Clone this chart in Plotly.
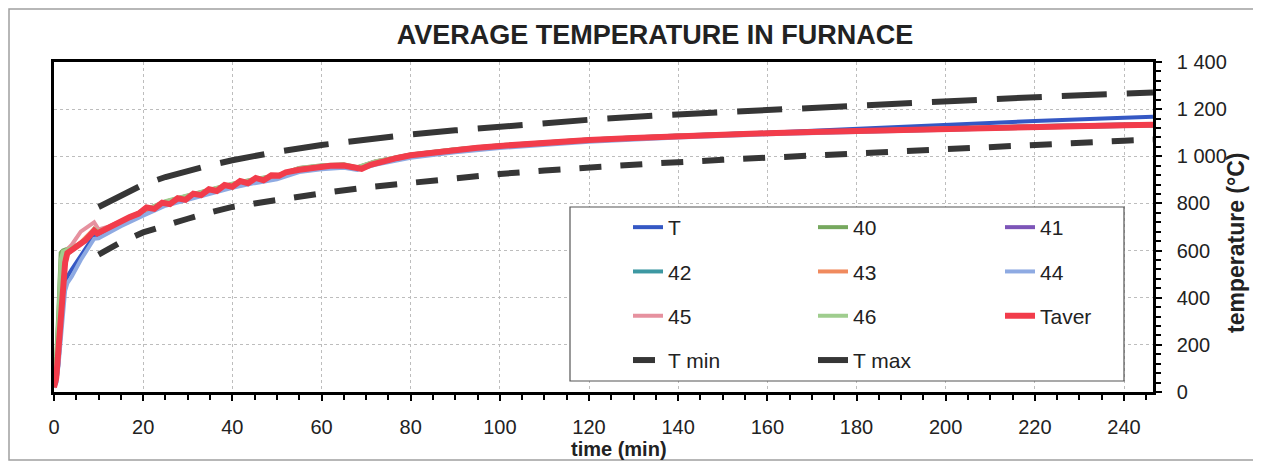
import plotly.graph_objects as go

# ---------------- data ----------------
# coarse time grid for the individual thermocouples (min)
t_sens = [0, 0.5, 1, 1.5, 2, 2.5, 3, 4, 6, 8, 9, 10, 12, 15, 20, 25, 30, 35, 40, 45,
          50, 55, 60, 65, 68, 72, 80, 90, 100, 120, 140, 160, 180, 200, 220, 240, 246.5]

T_main = [20, 40, 120, 250, 400, 460, 490, 520, 580, 635, 658, 660, 680, 710, 755, 795, 822, 848, 873, 893,
          910, 940, 952, 958, 948, 970, 1000, 1022, 1040, 1068, 1087, 1100, 1118, 1136, 1150, 1163, 1168]
T40 = [20, 150, 350, 590, 600, 603, 607, 612, 628, 662, 690, 680, 695, 722, 768, 808, 833, 858, 882, 902,
       917, 949, 960, 964, 952, 977, 1007, 1029, 1046, 1070, 1086, 1097, 1106, 1115, 1122, 1128, 1130]
T41 = [20, 55, 170, 290, 440, 550, 590, 603, 628, 663, 683, 674, 690, 718, 764, 804, 829, 854, 879, 899,
       914, 946, 957, 961, 949, 974, 1004, 1026, 1043, 1068, 1085, 1097, 1108, 1118, 1127, 1134, 1136]
T42 = [20, 50, 160, 280, 430, 540, 585, 600, 625, 660, 680, 672, 690, 718, 765, 806, 832, 857, 882, 902,
       917, 949, 960, 964, 952, 977, 1007, 1029, 1046, 1071, 1088, 1100, 1110, 1120, 1128, 1135, 1137]
T43 = [20, 65, 190, 310, 460, 565, 598, 608, 635, 672, 692, 680, 696, 722, 767, 806, 831, 856, 881, 901,
       916, 948, 959, 963, 951, 976, 1006, 1028, 1045, 1070, 1087, 1099, 1109, 1119, 1127, 1133, 1135]
T44 = [20, 40, 110, 220, 360, 430, 462, 490, 560, 625, 650, 652, 672, 703, 748, 790, 815, 840, 866, 886,
       902, 933, 945, 951, 942, 964, 994, 1017, 1035, 1062, 1080, 1093, 1104, 1114, 1122, 1128, 1130]
T45 = [20, 70, 200, 330, 480, 575, 605, 625, 680, 710, 720, 690, 700, 725, 770, 808, 833, 858, 883, 903,
       918, 950, 961, 965, 953, 978, 1008, 1030, 1047, 1071, 1088, 1099, 1109, 1119, 1127, 1133, 1135]
T46 = [20, 130, 320, 560, 595, 600, 605, 612, 630, 665, 692, 682, 697, 724, 770, 810, 836, 860, 884, 904,
       919, 951, 962, 966, 954, 978, 1008, 1030, 1047, 1071, 1087, 1098, 1108, 1117, 1124, 1130, 1132]

# average furnace temperature (finer grid, shows the oscillations)
t_aver = [0, 0.5, 1, 1.5, 2, 2.5, 3, 4, 5, 6, 7, 8, 9, 9.7, 11, 13, 15, 17, 19,
          20.75, 22.5, 24.25, 26, 27.75, 29.5, 31.25, 33, 34.75, 36.5, 38.25, 40, 41.75,
          43.5, 45.25, 47, 48.75, 50.5, 52, 55, 58, 62, 65, 67, 69, 71, 74, 77, 80, 85,
          90, 95, 100, 110, 120, 130, 140, 150, 160, 170, 180, 190, 200, 210, 220, 230, 240, 246.5]
T_aver = [20, 60, 180, 300, 440, 550, 590, 603, 614, 628, 643, 663, 684, 673, 686, 702, 722, 742, 757,
          783, 777, 803, 797, 822, 815, 841, 835, 860, 853, 878, 871, 895,
          886, 908, 898, 919, 918, 932, 943, 953, 960, 961, 956, 947, 964, 981, 993, 1004, 1016,
          1027, 1036, 1044, 1058, 1069, 1078, 1086, 1092, 1098, 1103, 1108, 1113, 1117, 1121, 1125, 1129, 1132, 1134]

# tolerance limits
t_lim = [10, 15, 20, 25, 30, 35, 40, 45, 50, 60, 70, 80, 90, 100, 110, 120, 135, 150, 165, 180,
         195, 210, 225, 240, 246.5]
T_min = [583, 635, 677, 708, 735, 762, 785, 800, 815, 843, 868, 888, 906, 925, 940, 954, 970, 985, 999, 1013,
         1030, 1043, 1055, 1066, 1071]
T_max = [785, 835, 880, 912, 940, 962, 983, 1002, 1019, 1048, 1072, 1093, 1110, 1127, 1142, 1155, 1173, 1188, 1202, 1215,
         1229, 1242, 1255, 1266, 1271]

x_ticks = list(range(0, 241, 20))
y_ticks = list(range(0, 1401, 200))

# ---------------- figure ----------------
FONT = "Arial, 'Liberation Sans', sans-serif"
fig = go.Figure()

sensors = [
    ("T", T_main, "#3558c4", "legend"),
    ("40", T40, "#76a85e", "legend2"),
    ("41", T41, "#7d55b8", "legend3"),
    ("42", T42, "#3d98a2", "legend"),
    ("43", T43, "#f08a5e", "legend2"),
    ("44", T44, "#8eaae2", "legend3"),
    ("45", T45, "#e6919f", "legend"),
    ("46", T46, "#9fcd8e", "legend2"),
]
for name, vals, col, lg in sensors:
    fig.add_trace(go.Scatter(x=t_sens, y=vals, name=name, mode="lines",
                             line=dict(color=col, width=4), legend=lg, legendgroup=name))

fig.add_trace(go.Scatter(x=t_aver, y=T_aver, name="Taver", mode="lines",
                         line=dict(color="#f23c4b", width=6), legend="legend3", legendgroup="Taver"))
fig.add_trace(go.Scatter(x=t_lim, y=T_min, name="T min", mode="lines",
                         line=dict(color="#363636", width=6, dash="22px,19px"),
                         legend="legend", legendgroup="Tmin"))
fig.add_trace(go.Scatter(x=t_lim, y=T_max, name="T max", mode="lines",
                         line=dict(color="#363636", width=6, dash="45px,20px"),
                         legend="legend2", legendgroup="Tmax"))

# page has an 8px body margin: figure drawn from (8, 8)
OFF = 8
W, H = 1261 - OFF, 465 - OFF
PL, PR, PT, PB = 54, 1153, 62, 392          # plot area in page pixels
L, T = PL - OFF, PT - OFF
R, B = W - (PR - OFF), H - (PB - OFF)
pw, ph = PR - PL, PB - PT


def px_x(p):
    return (p - PL) / pw


def px_y(p):
    return (PB - p) / ph


axis_common = dict(showline=True, linecolor="black", linewidth=2.5, mirror=True,
                   ticks="outside", ticklen=6, tickwidth=1.5, tickcolor="black",
                   showgrid=True, gridcolor="#bdbdbd", gridwidth=1, griddash="dot",
                   zeroline=False, tickfont=dict(family=FONT, size=20, color="#222"))

fig.update_layout(
    width=W, height=H,
    margin=dict(l=L, r=R, t=T, b=B),
    paper_bgcolor="white", plot_bgcolor="white",
    separators=". ",
    font=dict(family=FONT, color="#222"),
    title=dict(text="AVERAGE TEMPERATURE IN FURNACE", x=(655 - OFF) / W, xanchor="center",
               y=1 - (35 - OFF) / H, yanchor="middle",
               font=dict(family=FONT, size=27, weight="bold", color="#222")),
    xaxis=dict(range=[0, 246.5], tickvals=x_ticks, ticklabelstandoff=9,
               minor=dict(dtick=5, tick0=0, ticks="outside", ticklen=5, tickwidth=1.5,
                          tickcolor="black", showgrid=False),
               **axis_common),
    yaxis=dict(range=[0, 1400], tickvals=y_ticks, side="right", tickformat=",d",
               ticklabelstandoff=11,
               minor=dict(dtick=40, tick0=0, ticks="outside", ticklen=5, tickwidth=1.5,
                          tickcolor="black", showgrid=False),
               **axis_common),
    xaxis2=dict(range=[0, 246.5], overlaying="x", anchor="y", side="bottom",
                tickvals=x_ticks, ticks="inside", ticklen=6, tickwidth=1.5, tickcolor="black",
                minor=dict(dtick=5, tick0=0, ticks="inside", ticklen=5, tickwidth=1.5, tickcolor="black"),
                showticklabels=False, showgrid=False, showline=False, zeroline=False),
    yaxis2=dict(range=[0, 1400], overlaying="y", anchor="x", side="right",
                tickvals=y_ticks, ticks="inside", ticklen=6, tickwidth=1.5, tickcolor="black",
                minor=dict(dtick=40, tick0=0, ticks="inside", ticklen=5, tickwidth=1.5, tickcolor="black"),
                showticklabels=False, showgrid=False, showline=False, zeroline=False),
    showlegend=True,
)

leg_common = dict(xanchor="left", yanchor="top", bgcolor="rgba(0,0,0,0)", borderwidth=0,
                  font=dict(family=FONT, size=21, color="#222"), tracegroupgap=14,
                  orientation="v", itemclick=False)
legend_top = px_y(207)
fig.update_layout(
    legend=dict(x=px_x(628), y=legend_top, **leg_common),
    legend2=dict(x=px_x(813), y=legend_top, **leg_common),
    legend3=dict(x=px_x(1000), y=legend_top, **leg_common),
)

fig.add_shape(type="rect", xref="paper", yref="paper",
              x0=px_x(570), x1=px_x(1124), y0=px_y(381), y1=px_y(207),
              line=dict(color="#555", width=1.2), fillcolor="white", layer="above")
fig.add_shape(type="rect", xref="paper", yref="paper",
              x0=px_x(9), x1=px_x(1256), y0=px_y(460), y1=px_y(9),
              line=dict(color="#a0a0a0", width=1.5), fillcolor="rgba(0,0,0,0)", layer="below")

fig.add_annotation(text="time (min)", xref="paper", yref="paper", x=px_x(619), y=px_y(449),
                   xanchor="center", yanchor="middle",
                   showarrow=False, font=dict(family=FONT, size=20, weight="bold", color="#222"))
fig.add_annotation(text="temperature (°C)", xref="paper", yref="paper", x=px_x(1236), y=px_y(243),
                   xanchor="center", yanchor="middle",
                   showarrow=False, textangle=-90,
                   font=dict(family=FONT, size=23, weight="bold", color="#222"))

fig.write_html("out.html")
